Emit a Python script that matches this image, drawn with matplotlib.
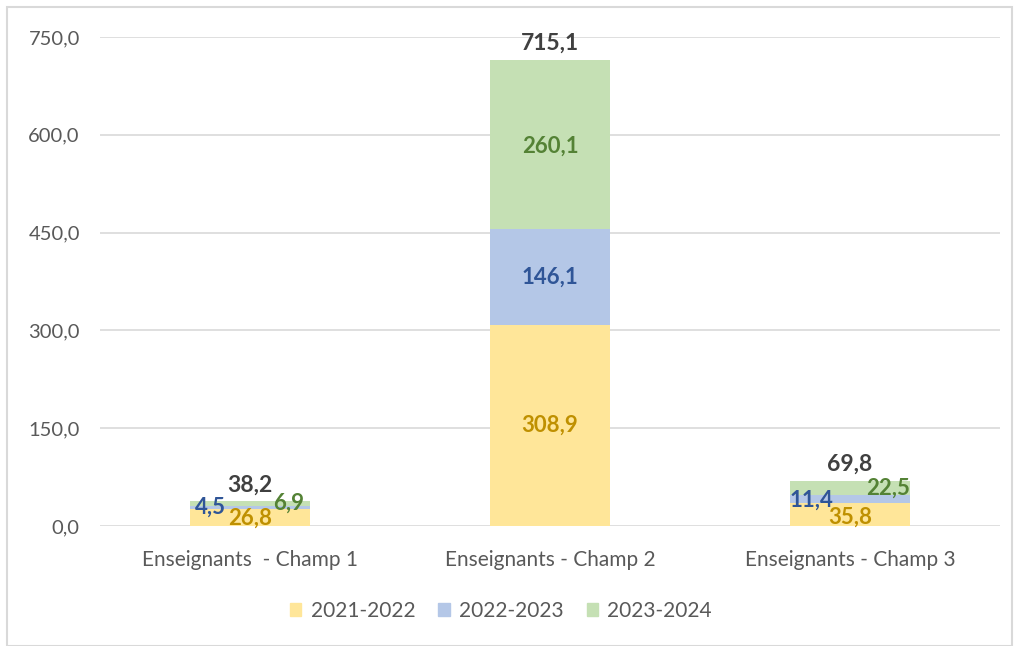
import matplotlib
matplotlib.use("Agg")
import matplotlib.pyplot as plt
import numpy as np
from matplotlib.patches import Rectangle

plt.rcParams['font.family'] = ['Lato', 'DejaVu Sans']

categories = ["Enseignants  - Champ 1", "Enseignants - Champ 2", "Enseignants - Champ 3"]
series_names = ["2021-2022", "2022-2023", "2023-2024"]
v2021 = [26.8, 308.9, 35.8]
v2022 = [4.5, 146.1, 11.4]
v2023 = [6.9, 260.1, 22.5]
totals = [38.2, 715.1, 69.8]
yticks = [0, 150, 300, 450, 600, 750]

fill_colors = ["#FFE699", "#B4C7E7", "#C5E0B4"]
label_colors = ["#BF9000", "#2F5597", "#548235"]

fig = plt.figure(figsize=(10.17, 6.46), dpi=100)
ax = fig.add_axes([100/1017, 1-526/646, 900/1017, (526-37)/646])

x = np.arange(len(categories))
series = [v2021, v2022, v2023]
bottom = np.zeros(len(categories))
bars = []
for vals, c, name in zip(series, fill_colors, series_names):
    ax.bar(x, vals, 0.4, bottom=bottom, color=c, label=name, zorder=3)
    bars.append((vals, bottom.copy()))
    bottom = bottom + np.array(vals)

ax.set_xlim(-0.5, 2.5)
ax.set_ylim(0, 750)
ax.set_yticks(yticks)
ax.set_yticklabels([f"{v:.1f}".replace(".", ",") for v in yticks])
ax.set_xticks(x)
ax.set_xticklabels(categories)
ax.tick_params(axis='both', length=0, colors="#595959", labelsize=14.5)
ax.tick_params(axis='x', labelsize=15)
ax.tick_params(axis='y', pad=14.5)
ax.tick_params(axis='x', pad=17)
ax.grid(axis='y', color="#D9D9D9", linewidth=1.2, zorder=0)
for s in ax.spines.values():
    s.set_visible(False)

def fmt(v):
    return f"{v:.1f}".replace(".", ",")

# label placement offsets (x offset in category units, y in data units relative to segment center)
offsets = {
    (0, 0): (0.0, -1), (0, 1): (-0.133, 0), (0, 2): (0.13, 0.5),
    (1, 0): (0, 0), (1, 1): (0, 0), (1, 2): (0, -2),
    (2, 0): (0.0, -4), (2, 1): (-0.127, -1.6), (2, 2): (0.127, 0),
}
for si, (vals, bot) in enumerate(bars):
    for ci in range(len(categories)):
        dx, dy = offsets[(ci, si)]
        yc = bot[ci] + vals[ci] / 2 + dy
        ax.text(x[ci] + dx, yc, fmt(vals[ci]), ha='center', va='center',
                color=label_colors[si], fontsize=16, fontweight='bold', zorder=5)

for ci, t in enumerate(totals):
    ax.text(x[ci], t + 9, fmt(t), ha='center', va='bottom', color="#404040",
            fontsize=16.5, fontweight='bold', zorder=5)

handles = [Rectangle((0, 0), 1, 1, color=c) for c in fill_colors]
fig.legend(handles, series_names, loc='center', bbox_to_anchor=(501/1017, 1-611/646),
           ncol=3, frameon=False, fontsize=15, labelcolor="#595959",
           handlelength=0.55, handleheight=0.55, handletextpad=0.45, columnspacing=1.1)

# outer frame
fig.patches.append(Rectangle((7/1017, 0), 1005/1017, 1-7/646, transform=fig.transFigure,
                             fill=False, edgecolor="#D9D9D9", linewidth=1.5))

fig.savefig("out.png", dpi=100, facecolor="white")
